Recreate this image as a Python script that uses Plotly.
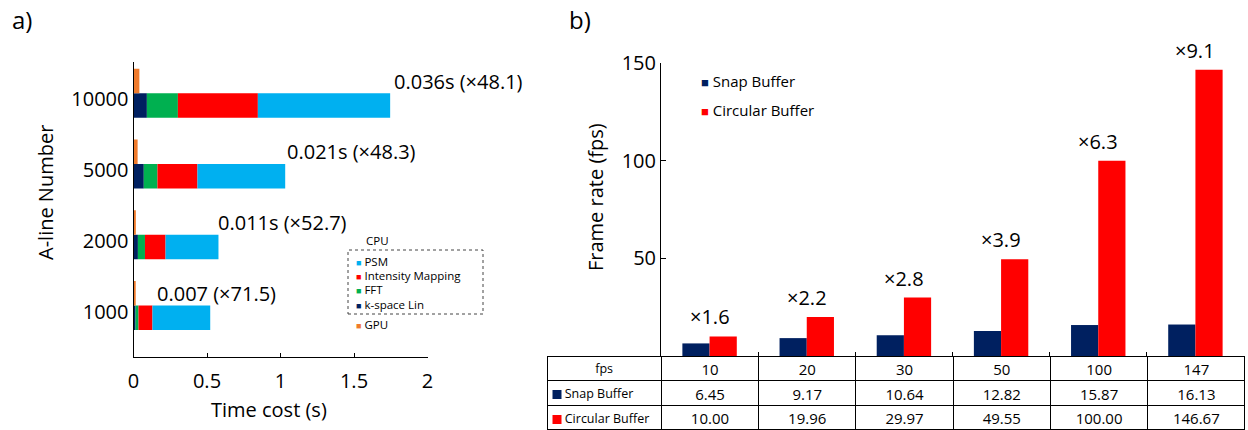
import numpy as np
import plotly.graph_objects as go

W, H = 1248, 430
def X(px): return px / W
def Y(py): return 1 - py / H

FONT = "Open Sans"
NB = "\u00a0"

# ---------------- Panel a data ----------------
a_lines = ["1000", "2000", "5000", "10000"]
kspace = [0.014, 0.030, 0.070, 0.091]
fft = [0.020, 0.048, 0.093, 0.211]
intensity = [0.095, 0.140, 0.272, 0.544]
psm = [0.393, 0.360, 0.597, 0.900]
gpu = [0.015, 0.016, 0.028, 0.040]
a_labels = ["0.007 (×71.5)", "0.011s (×52.7)", "0.021s (×48.3)", "0.036s (×48.1)"]
cpu_names = ["k-space Lin", "FFT", "Intensity Mapping", "PSM"]
cpu_colors = ["#002060", "#00B050", "#FF0000", "#00B0F0"]
gpu_name = "GPU"
gpu_color = "#F07B2C"
x_ticks_a = [0, 0.5, 1, 1.5, 2]
x_ticktext_a = ["0", "0.5", "1", "1.5", "2"]

# ---------------- Panel b data ----------------
fps_targets = ["10", "20", "30", "50", "100", "147"]
snap = [6.45, 9.17, 10.64, 12.82, 15.87, 16.13]
circular = [10.00, 19.96, 29.97, 49.55, 100.00, 146.67]
speedups = ["×1.6", "×2.2", "×2.8", "×3.9", "×6.3", "×9.1"]
b_names = ["Snap Buffer", "Circular Buffer"]
b_colors = ["#002060", "#FF0000"]
y_ticks_b = [50, 100, 150]

fig = go.Figure()

# ---- Panel a: stacked CPU bars + GPU bar ----
pos = np.arange(len(a_lines))
series = [kspace, fft, intensity, psm]
base = np.zeros(len(a_lines))
BW = 0.346
for name, vals, col in zip(cpu_names, series, cpu_colors):
    fig.add_trace(go.Bar(
        x=vals, y=pos, base=base.copy(), orientation="h", width=BW, offset=-BW,
        marker=dict(color=col, line=dict(width=0)), name=name,
        xaxis="x", yaxis="y", showlegend=False))
    base = base + np.array(vals)
cpu_total = base
fig.add_trace(go.Bar(
    x=gpu, y=pos, orientation="h", width=BW, offset=0,
    marker=dict(color=gpu_color, line=dict(width=0)), name=gpu_name,
    xaxis="x", yaxis="y", showlegend=False))

# ---- Panel b: grouped bars ----
BW2 = 0.28
for name, vals, col, off in zip(b_names, [snap, circular], b_colors, [-BW2, 0]):
    fig.add_trace(go.Bar(
        x=fps_targets, y=vals, width=BW2, offset=off,
        marker=dict(color=col, line=dict(width=0)), name=name,
        xaxis="x2", yaxis="y2", showlegend=False))

# ---- Table ----
header_vals = ["fps"] + fps_targets
row_names = [NB * 3 + n.replace(" ", NB) for n in b_names]
cell_vals = [row_names] + [[f"{s:.2f}", f"{c:.2f}"] for s, c in zip(snap, circular)]
ncol = len(header_vals)
fig.add_trace(go.Table(
    domain=dict(x=[X(547), X(1245)], y=[0, Y(356)]),
    columnwidth=[114] + [97] * (ncol - 1),
    header=dict(values=header_vals, height=24.6,
                align="center",
                line=dict(color="black", width=1), fill=dict(color="white"),
                font=dict(family=FONT, color="black", size=[12.5] + [15] * (ncol - 1))),
    cells=dict(values=cell_vals, height=24.6,
               align=["left"] + ["center"] * (ncol - 1),
               line=dict(color="black", width=1), fill=dict(color="white"),
               font=dict(family=FONT, color="black", size=[12.5] + [15] * (ncol - 1)))
))

annotations = []
# Panel a value labels
xshifts = [-55, -2, 0, 2]
for p, tot, lab, xs in zip(pos, cpu_total, a_labels, xshifts):
    annotations.append(dict(x=tot, y=p, xref="x", yref="y", text=lab, showarrow=False,
                            xanchor="left", yanchor="middle", xshift=xs, yshift=12,
                            font=dict(family=FONT, size=20, color="black")))
# Panel b speedup labels (category index positions)
for i, (v, lab) in enumerate(zip(circular, speedups)):
    annotations.append(dict(x=i, y=v, xref="x2", yref="y2", text=lab, showarrow=False,
                            xanchor="center", yanchor="bottom", yshift=4,
                            font=dict(family=FONT, size=20, color="black")))

def swatch(col, text, size):
    return f"<span style='color:{col};font-size:{size}px'>■</span>{NB}{text}"

# Axis titles and panel letters
def txt(x, y, t, size=20, angle=0, anchor="center", pad=1):
    annotations.append(dict(x=X(x), y=Y(y), xref="paper", yref="paper", text=t, showarrow=False,
                            textangle=angle, xanchor=anchor, yanchor="middle", borderpad=pad,
                            font=dict(family=FONT, size=size, color="black")))
txt(45, 192, "A-line Number", angle=-90)
txt(269, 409, "Time cost (s)")
txt(595, 197, "Frame rate (fps)", angle=-90)
txt(22, 20, "a)", size=24)
txt(580, 20, "b)", size=24)

# Panel a legend (manual, CPU group in dashed box)
txt(377, 240, "CPU", size=11.5)
leg_order = list(reversed(range(len(cpu_names))))
leg_y = [261, 275.5, 289.5, 304]
for yy, i in zip(leg_y, leg_order):
    txt(354, yy, swatch(cpu_colors[i], cpu_names[i], 9), size=11.5, anchor="left")
txt(354, 324, swatch(gpu_color, gpu_name, 9), size=11.5, anchor="left")

# Panel b legend
for yy, name, col in zip([81.5, 110.5], b_names, b_colors):
    txt(699, yy, swatch(col, name, 13), size=15, anchor="left")

shapes = [dict(type="rect", xref="paper", yref="paper",
               x0=X(348), x1=X(483), y0=Y(314), y1=Y(250),
               line=dict(color="#444", width=1, dash="dot"))]
# Colour swatches in the table's first column
for yy, col in zip([394.5, 419.5], b_colors):
    shapes.append(dict(type="rect", xref="paper", yref="paper",
                       x0=X(552.5), x1=X(561.5), y0=Y(yy + 4.5), y1=Y(yy - 4.5),
                       line=dict(width=0), fillcolor=col, layer="above"))

fig.update_layout(
    width=W, height=H,
    margin=dict(l=0, r=0, t=0, b=0, pad=0, autoexpand=False),
    paper_bgcolor="white", plot_bgcolor="white",
    barmode="overlay",
    font=dict(family=FONT, color="black"),
    annotations=annotations, shapes=shapes,
    xaxis=dict(domain=[X(133.5), X(427.5)], anchor="y", range=[0, 2],
               tickvals=x_ticks_a, ticktext=x_ticktext_a,
               ticks="inside", ticklen=4, tickcolor="black",
               showline=True, linecolor="black", linewidth=1,
               showgrid=False, zeroline=False, automargin=False,
               tickfont=dict(family=FONT, size=20), ticklabelstandoff=6),
    yaxis=dict(domain=[Y(357), Y(62)], anchor="x", range=[-0.726, 3.44],
               tickvals=list(pos), ticktext=a_lines, ticks="",
               ticklabelshift=6,
               showline=True, linecolor="black", linewidth=1,
               showgrid=False, zeroline=False, automargin=False,
               tickfont=dict(family=FONT, size=20)),
    xaxis2=dict(domain=[X(661), X(1244)], anchor="y2", type="category",
                range=[-0.5, len(fps_targets) - 0.5],
                showticklabels=False, ticks="inside", tickson="boundaries",
                ticklen=4, tickcolor="black",
                showline=True, linecolor="black", linewidth=1,
                showgrid=False, zeroline=False, automargin=False),
    yaxis2=dict(domain=[Y(356), Y(63.3)], anchor="x2", range=[0, 150],
                tickvals=y_ticks_b, ticks="inside", ticklen=5, tickcolor="black",
                showline=True, linecolor="black", linewidth=1,
                showgrid=False, zeroline=False, automargin=False,
                tickfont=dict(family=FONT, size=20)),
)

fig.write_html("out.html", config={"displayModeBar": False},
               post_script="document.body.style.margin='0';document.body.style.overflow='hidden';")
